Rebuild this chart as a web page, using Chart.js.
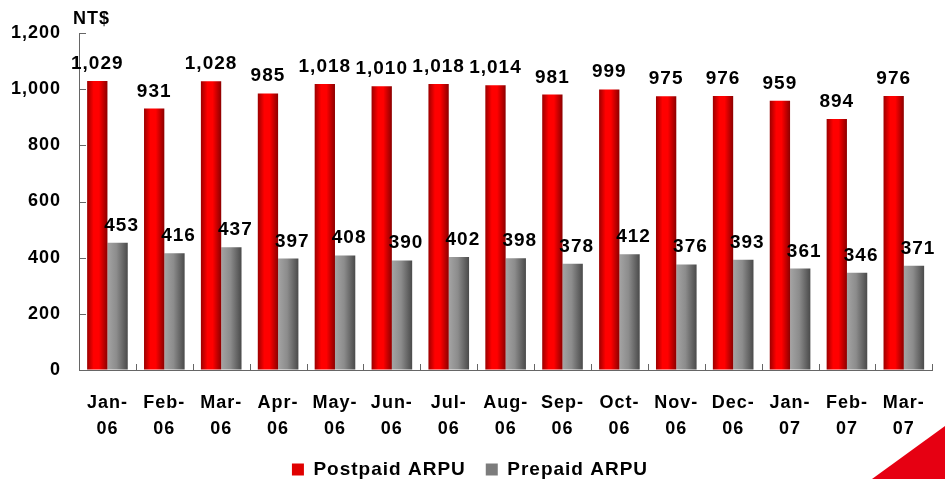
<!DOCTYPE html>
<html>
<head>
<meta charset="utf-8">
<script src="https://cdn.jsdelivr.net/npm/chart.js@4"></script>
<style>
  html, body { margin: 0; padding: 0; background: #fff; }
  #wrap { width: 945px; height: 479px; position: relative; }
</style>
</head>
<body>
<div id="wrap"><canvas id="chart"></canvas></div>
<script>
// data
var months = [['Jan-','06'],['Feb-','06'],['Mar-','06'],['Apr-','06'],['May-','06'],['Jun-','06'],['Jul-','06'],['Aug-','06'],['Sep-','06'],['Oct-','06'],['Nov-','06'],['Dec-','06'],['Jan-','07'],['Feb-','07'],['Mar-','07']];
var postpaid = [1029, 931, 1028, 985, 1018, 1010, 1018, 1014, 981, 999, 975, 976, 959, 894, 976];
var prepaid  = [453, 416, 437, 397, 408, 390, 402, 398, 378, 412, 376, 393, 361, 346, 371];
var yTicks   = [0, 200, 400, 600, 800, 1000, 1200];

var FONT = "'Liberation Sans', Arial, sans-serif";
var CAT_PCT = 0.714;

var fmt = (v) => v.toLocaleString('en-US');

// horizontal gradient across each bar, like the old office 3d look
barFill = (stops, solid) => {
    return function(c) {
        var chart = c.chart;
        var xs = chart.scales.x;
        if (!xs || c.dataIndex === undefined || !chart.chartArea) return solid;
        var cat = xs.width / months.length;
        var bw = cat * CAT_PCT / 2;
        var center = xs.getPixelForValue(c.dataIndex);
        var left = c.datasetIndex === 0 ? center - bw : center;
        var g = chart.ctx.createLinearGradient(left, 0, left + bw, 0);
        stops.forEach(s => g.addColorStop(s[0], s[1]));
        return g;
    }
}

var redStops  = [[0, '#9c0000'], [0.32, '#ff0000'], [0.58, '#ff0000'], [1, '#8c0000']];
var greyStops = [[0, '#a4a4a4'], [0.45, '#8c8c8c'], [1, '#4a4a4a']];
var legendColors = ['#e00000', '#7c7c7c'];

var spacing = {
    id: 'spacing',
    beforeLayout(chart) { chart.ctx.letterSpacing = '1px'; },
    beforeDraw(chart) { chart.ctx.letterSpacing = '1px'; }
};

// inside tick marks, value labels, unit text, corner triangle
var extras = {
    id: 'extras',
    afterDatasetsDraw(chart) {
        var ctx = chart.ctx;
        var xs = chart.scales.x, ys = chart.scales.y;
        ctx.save();
        ctx.strokeStyle = '#666';
        ctx.lineWidth = 1;
        ctx.beginPath();
        var cat = xs.width / months.length;
        for (var i = 0; i <= months.length; i++) {
            var px = Math.round(xs.left + i * cat) + 0.5;
            ctx.moveTo(px, ys.bottom);
            ctx.lineTo(px, ys.bottom - 6);
        }
        yTicks.forEach(t => {
            var py = Math.round(ys.getPixelForValue(t)) + 0.5;
            ctx.moveTo(xs.left, py);
            ctx.lineTo(xs.left + 7, py);
        });
        ctx.stroke();

        ctx.fillStyle = '#000';
        ctx.font = 'bold 19px ' + FONT;
        ctx.textAlign = 'center';
        ctx.textBaseline = 'alphabetic';
        chart.data.datasets.forEach((ds, di) => {
            var meta = chart.getDatasetMeta(di);
            meta.data.forEach((el, i) => {
                var dx = di === 1 ? 4 : 0;
                ctx.fillText(fmt(ds.data[i]), el.x + dx, el.y - 12);
            });
        });

        ctx.font = 'bold 18px ' + FONT;
        ctx.textAlign = 'left';
        ctx.fillText('NT$', 73, 24);

        ctx.fillStyle = '#e60012';
        ctx.beginPath();
        ctx.moveTo(872, 479);
        ctx.lineTo(945, 426);
        ctx.lineTo(945, 479);
        ctx.closePath();
        ctx.fill();
        ctx.restore();
    }
};

var ctx = document.getElementById('chart').getContext('2d');
var myChart = new Chart(ctx, {
    type: 'bar',
    data: {
        labels: months,
        datasets: [
            { label: 'Postpaid ARPU', data: postpaid, backgroundColor: barFill(redStops, '#e00000'), borderWidth: 0 },
            { label: 'Prepaid ARPU', data: prepaid, backgroundColor: barFill(greyStops, '#808080'), borderWidth: 0 }
        ]
    },
    options: {
        responsive: true,
        maintainAspectRatio: false,
        animation: false,
        layout: { padding: { top: 33, right: 5, left: 0, bottom: -10 } },
        datasets: { bar: { categoryPercentage: CAT_PCT, barPercentage: 1 } },
        plugins: {
            tooltip: { enabled: false },
            legend: {
                position: 'bottom',
                labels: {
                    color: '#000',
                    font: { family: FONT, size: 19, weight: 'bold' },
                    boxWidth: 12,
                    boxHeight: 12,
                    padding: 20,
                    generateLabels(chart) {
                        return chart.data.datasets.map((ds, i) => ({
                            text: ds.label,
                            fillStyle: legendColors[i],
                            strokeStyle: legendColors[i],
                            lineWidth: 0,
                            fontColor: '#000',
                            datasetIndex: i,
                            hidden: false
                        }));
                    }
                }
            }
        },
        scales: {
            x: {
                grid: { display: true, drawOnChartArea: false, drawTicks: false },
                border: { color: '#666', width: 1 },
                ticks: {
                    color: '#000',
                    font: { family: FONT, size: 18, weight: 'bold', lineHeight: 1.45 },
                    padding: 20,
                    maxRotation: 0,
                    autoSkip: false
                },
                afterFit(scale) { scale.height = 70; }
            },
            y: {
                min: 0,
                max: 1200,
                grid: { display: true, drawOnChartArea: false, drawTicks: false },
                border: { color: '#666', width: 1 },
                afterBuildTicks(scale) { scale.ticks = yTicks.map(v => ({ value: v })); },
                ticks: {
                    color: '#000',
                    font: { family: FONT, size: 18, weight: 'bold' },
                    padding: 18,
                    callback: (v) => fmt(v)
                },
                afterFit(scale) { scale.width = 79; }
            }
        }
    },
    plugins: [spacing, extras]
});
</script>
</body>
</html>
